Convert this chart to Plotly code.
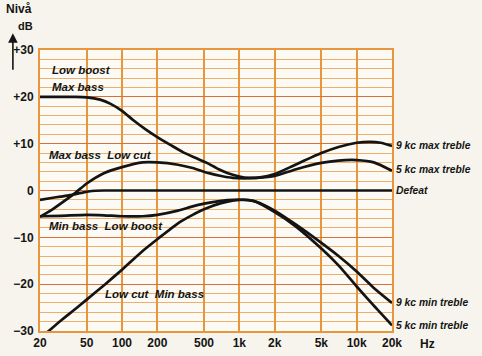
import math
import plotly.graph_objects as go

# ---- data ----
freq_max_bass = [20, 30, 40, 50, 65, 80, 100, 125, 160, 200, 260, 330, 420, 530, 660, 800, 1000, 1200, 1500, 2000, 3000, 5000, 7000, 10000, 13000, 16000, 20000]
db_max_bass   = [20, 20, 20, 19.9, 19.4, 18.5, 17, 15, 13, 11.4, 9.7, 8.2, 7, 5.9, 4.6, 3.7, 3.0, 2.7, 2.8, 3.5, 5.5, 8.0, 9.3, 10.2, 10.4, 10.2, 9.5]

freq_low_cut_max = [20, 25, 30, 40, 50, 70, 100, 150, 200, 300, 400, 550, 700, 880, 1100, 1400, 2000, 3000, 5000, 7000, 10000, 14000, 20000]
db_low_cut_max   = [-5.6, -4.2, -2.8, -0.5, 1.5, 3.7, 5.0, 6.0, 6.0, 5.5, 4.8, 3.7, 3.1, 2.7, 2.6, 2.7, 3.1, 4.5, 5.9, 6.4, 6.5, 6.0, 4.2]

freq_defeat = [20, 25, 30, 36, 45, 55, 70, 20000]
db_defeat   = [-2.0, -1.6, -1.3, -1.0, -0.5, -0.1, 0, 0]

freq_min_bass = [20, 30, 50, 70, 100, 150, 200, 300, 400, 500, 700, 900, 1100, 1400, 2000, 3000, 5000, 7000, 10000, 14000, 20000]
db_min_bass   = [-5.5, -5.4, -5.2, -5.3, -5.5, -5.5, -5.2, -4.3, -3.4, -2.8, -2.2, -2.0, -2.0, -2.4, -4.3, -7.2, -11.2, -14.0, -17.3, -20.8, -24.0]

freq_low_cut_min = [23, 30, 40, 50, 72, 100, 150, 200, 300, 400, 500, 700, 1000, 1300, 2000, 3000, 5000, 7000, 10000, 14000, 20000]
db_low_cut_min   = [-30.3, -27.8, -25.3, -23.3, -20.0, -16.9, -12.9, -10.4, -7.0, -5.2, -4.0, -2.7, -2.0, -2.2, -4.6, -7.6, -12.4, -16.0, -20.5, -24.6, -28.8]

x_tickvals = [20, 50, 100, 200, 500, 1000, 2000, 5000, 10000, 20000]
x_ticktext = ["20", "50", "100", "200", "500", "1k", "2k", "5k", "10k", "20k"]
y_tickvals = [30, 20, 10, 0, -10, -20, -30]
y_ticktext = ["+30", "+20", "+10", "0", "\u221210", "\u221220", "\u221230"]

right_labels = ["9 kc max treble", "5 kc max treble", "Defeat", "9 kc min treble", "5 kc min treble"]
right_label_db = [9.7, 4.4, 0, -24.0, -28.9]

inner_labels = ["Low boost", "Max bass", "Max bass  Low cut", "Min bass  Low boost", "Low cut  Min bass"]
inner_label_freq = [24.5, 24.5, 23, 23, 69]
inner_label_db = [25.7, 22.0, 7.6, -7.6, -22.2]

# ---- styles ----
FONT = "Liberation Sans, Arial, sans-serif"
ORANGE = "#E8963E"
LINE = "#141414"

fig = go.Figure()
for fx, dy in [(freq_max_bass, db_max_bass), (freq_low_cut_max, db_low_cut_max),
               (freq_defeat, db_defeat), (freq_min_bass, db_min_bass),
               (freq_low_cut_min, db_low_cut_min)]:
    fig.add_trace(go.Scatter(x=fx, y=dy, mode="lines",
                             line=dict(color=LINE, width=2.7, shape="spline", smoothing=0.6),
                             showlegend=False, hoverinfo="skip"))

for txt, f, d in zip(inner_labels, inner_label_freq, inner_label_db):
    fig.add_annotation(x=math.log10(f), y=d, xref="x", yref="y", text="<b><i>%s</i></b>" % txt,
                       showarrow=False, xanchor="left", yanchor="middle",
                       font=dict(family=FONT, size=11.5, color=LINE))

for txt, d in zip(right_labels, right_label_db):
    fig.add_annotation(x=1.006, y=d, xref="paper", yref="y", text="<b><i>%s</i></b>" % txt,
                       showarrow=False, xanchor="left", yanchor="middle",
                       font=dict(family=FONT, size=10.3, color=LINE))

fig.add_annotation(x=1.075, y=-0.045, xref="paper", yref="paper", text="<b>Hz</b>",
                   showarrow=False, xanchor="left", yanchor="middle",
                   font=dict(family=FONT, size=12, color=LINE))
fig.add_annotation(x=-0.06, y=1.145, xref="paper", yref="paper", text="<b>Nivå</b>",
                   showarrow=False, xanchor="center", yanchor="middle",
                   font=dict(family=FONT, size=12, color=LINE))
fig.add_annotation(x=-0.04, y=1.085, xref="paper", yref="paper", text="<b>dB</b>",
                   showarrow=False, xanchor="center", yanchor="middle",
                   font=dict(family=FONT, size=11, color=LINE))
fig.add_annotation(x=-0.077, y=1.06, xref="paper", yref="paper", text="",
                   showarrow=True, ax=0, ay=38, arrowhead=2, arrowsize=1.2,
                   arrowwidth=1.6, arrowcolor=LINE)

fig.update_xaxes(type="log", range=[math.log10(20), math.log10(20000)],
                 tickmode="array", tickvals=x_tickvals,
                 ticktext=["<b>%s</b>" % t for t in x_ticktext],
                 showgrid=True, gridcolor=ORANGE, gridwidth=1.5,
                 showline=True, linecolor=ORANGE, linewidth=2, mirror=True,
                 ticks="", zeroline=False, automargin=False,
                 tickfont=dict(family=FONT, size=12, color=LINE))
fig.update_yaxes(range=[-30, 30], tickmode="array", tickvals=y_tickvals,
                 ticktext=["<b>%s</b>" % t for t in y_ticktext],
                 showgrid=True, gridcolor="#D9703A", gridwidth=1.3,
                 minor=dict(tickmode="linear", tick0=0, dtick=2, showgrid=True,
                            gridcolor="#EFAE6A", gridwidth=1.2, ticks=""),
                 showline=True, linecolor=ORANGE, linewidth=2, mirror=True,
                 ticks="", zeroline=False, automargin=False, ticklabelstandoff=2,
                 tickfont=dict(family=FONT, size=12, color=LINE))

fig.update_layout(width=482, height=356,
                  margin=dict(l=40, r=90, t=50, b=25, autoexpand=False),
                  paper_bgcolor="#F6F4EC", plot_bgcolor="#FBFAF4",
                  font=dict(family=FONT, color=LINE))

fig.write_html("out.html", config={"displayModeBar": False},
               post_script="document.body.style.margin='0';document.body.style.background='#F6F4EC';")
